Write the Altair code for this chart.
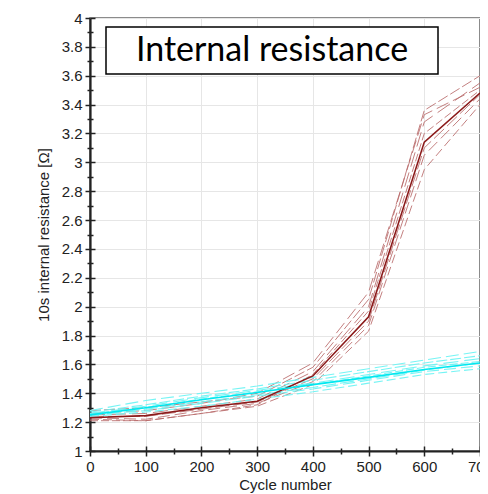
import altair as alt
import pandas as pd

cycles = [0, 100, 200, 300, 400, 500, 600, 700]

red_mean = [1.23, 1.245, 1.30, 1.345, 1.52, 1.93, 3.14, 3.48]
cyan_mean = [1.25, 1.30, 1.355, 1.405, 1.46, 1.51, 1.565, 1.61]

red_cells = [
    [1.22, 1.21, 1.26, 1.31, 1.46, 1.83, 2.95, 3.40],
    [1.23, 1.22, 1.28, 1.33, 1.48, 1.87, 3.05, 3.44],
    [1.24, 1.24, 1.29, 1.34, 1.50, 1.90, 3.10, 3.47],
    [1.21, 1.21, 1.26, 1.32, 1.53, 1.97, 3.20, 3.50],
    [1.25, 1.26, 1.31, 1.36, 1.55, 2.00, 3.28, 3.55],
    [1.28, 1.30, 1.34, 1.38, 1.58, 2.05, 3.36, 3.60],
    [1.26, 1.28, 1.33, 1.40, 1.61, 2.10, 3.33, 3.52],
]
cyan_cells = [
    [1.24, 1.27, 1.31, 1.36, 1.41, 1.47, 1.53, 1.57],
    [1.25, 1.28, 1.33, 1.38, 1.43, 1.49, 1.55, 1.59],
    [1.25, 1.29, 1.34, 1.39, 1.44, 1.50, 1.56, 1.61],
    [1.26, 1.30, 1.36, 1.41, 1.46, 1.52, 1.58, 1.62],
    [1.26, 1.31, 1.37, 1.42, 1.47, 1.53, 1.59, 1.64],
    [1.27, 1.32, 1.38, 1.43, 1.49, 1.55, 1.61, 1.66],
    [1.28, 1.35, 1.40, 1.45, 1.51, 1.57, 1.63, 1.69],
]

title_text = "Internal resistance"
x_title = "Cycle number"
y_title = "10s internal resistance [Ω]"

rows = []
for i, s in enumerate(red_cells):
    for c, v in zip(cycles, s):
        rows.append({"cycle": c, "value": v, "series": f"r{i}", "group": "red"})
for i, s in enumerate(cyan_cells):
    for c, v in zip(cycles, s):
        rows.append({"cycle": c, "value": v, "series": f"c{i}", "group": "cyan"})
cells = pd.DataFrame(rows)

means = pd.DataFrame(
    [{"cycle": c, "value": v, "group": "red"} for c, v in zip(cycles, red_mean)]
    + [{"cycle": c, "value": v, "group": "cyan"} for c, v in zip(cycles, cyan_mean)]
)

W, H = 390, 433

x_vals = list(range(0, 701, 50))
y_vals = [round(1 + 0.1 * k, 1) for k in range(31)]
x_major = "datum.value % 100 === 0"
y_major = "round(datum.value * 10) % 2 === 0"
x_scale = alt.Scale(domain=[0, 700], nice=False)
y_scale = alt.Scale(domain=[1, 4], nice=False)

x_enc = alt.X(
    "cycle:Q", scale=x_scale,
    axis=alt.Axis(
        title=x_title, values=x_vals,
        labelExpr=f"{x_major} ? format(datum.value, 'd') : ''",
        tickSize={"condition": {"test": x_major, "value": 5}, "value": 3},
        gridOpacity={"condition": {"test": x_major, "value": 1}, "value": 0},
        labelPadding=3, titlePadding=3, labelFlush=False, labelOverlap=False,
    ),
)
y_enc = alt.Y(
    "value:Q", scale=y_scale,
    axis=alt.Axis(
        title=y_title, values=y_vals,
        labelExpr=f"{y_major} ? format(datum.value, '~g') : ''",
        tickSize={"condition": {"test": y_major, "value": 5}, "value": 3},
        gridOpacity={"condition": {"test": y_major, "value": 1}, "value": 0},
        labelPadding=3, titlePadding=10, labelOverlap=False,
    ),
)
x_plain = alt.X("cycle:Q", scale=x_scale, axis=None)
y_plain = alt.Y("value:Q", scale=y_scale, axis=None)

# inward half of the ticks: axes on the opposite side, pulled onto the left/bottom edges
x_in = alt.X(
    "cycle:Q", scale=x_scale,
    axis=alt.Axis(
        orient="top", offset=-H, values=x_vals, labels=False, domain=False, grid=False,
        title=None,
        tickSize={"condition": {"test": x_major, "value": 5}, "value": 3},
    ),
)
y_in = alt.Y(
    "value:Q", scale=y_scale,
    axis=alt.Axis(
        orient="right", offset=-W, values=y_vals, labels=False, domain=False, grid=False,
        title=None,
        tickSize={"condition": {"test": y_major, "value": 5}, "value": 3},
    ),
)

dash_range = [[9, 4], [12, 5], [14, 4], [8, 3], [15, 6], [11, 3], [13, 5]]

red_dash = alt.Chart(cells[cells.group == "red"]).mark_line(
    color="#b86a6a", strokeWidth=1, opacity=0.85
).encode(
    x=x_enc, y=y_enc, detail="series:N",
    strokeDash=alt.StrokeDash("series:N", scale=alt.Scale(range=dash_range), legend=None),
)
cyan_dash = alt.Chart(cells[cells.group == "cyan"]).mark_line(
    color="#6ff3f3", strokeWidth=1.1, opacity=0.95
).encode(
    x=x_plain, y=y_plain, detail="series:N",
    strokeDash=alt.StrokeDash("series:N", scale=alt.Scale(range=dash_range), legend=None),
)
red_line = alt.Chart(means[means.group == "red"]).mark_line(
    color="#8b1a1a", strokeWidth=1.6
).encode(x=x_plain, y=y_plain)
cyan_line = alt.Chart(means[means.group == "cyan"]).mark_line(
    color="#00e8f0", strokeWidth=1.6
).encode(x=x_in, y=y_in)

box = alt.Chart(pd.DataFrame({"t": [title_text]})).mark_rect(
    fill="white", stroke="black", strokeWidth=1.5
).encode(
    x=alt.value(16), x2=alt.value(348), y=alt.value(9), y2=alt.value(56)
)
label = alt.Chart(pd.DataFrame({"t": [title_text]})).mark_text(
    font="Lato", fontSize=34, color="black", align="center", baseline="middle"
).encode(text="t:N", x=alt.value(182), y=alt.value(33))

chart = alt.layer(red_dash, cyan_dash, red_line, cyan_line, box, label).resolve_scale(
    strokeDash="independent"
).resolve_axis(
    x="independent", y="independent"
).properties(
    width=W, height=H,
    autosize=alt.AutoSizeParams(type="none"),
    padding={"left": 82, "top": 10, "right": 0, "bottom": 43},
).configure_view(
    stroke="#666666", strokeWidth=1.5
).configure_axis(
    labelFont="Liberation Sans", titleFont="Liberation Sans",
    labelFontSize=15, titleFontSize=15, labelColor="#222", titleColor="#222",
    titleFontWeight="normal",
    domainColor="#222", domainWidth=2.2, tickColor="#222", tickWidth=1.5,
    gridColor="#e6e6e6", gridWidth=1,
)

chart.save("out.html", embed_options={"renderer": "svg", "actions": False})
